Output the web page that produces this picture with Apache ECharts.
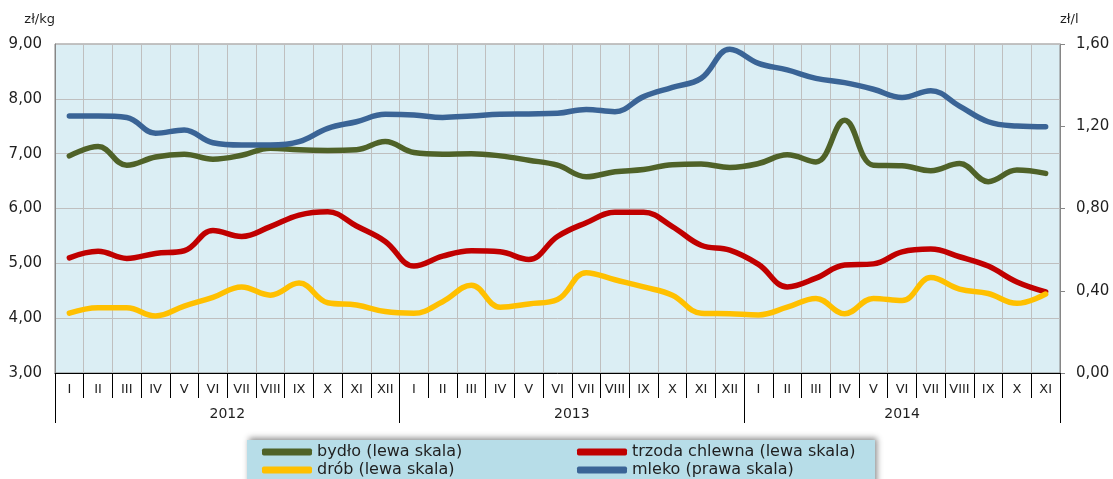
<!DOCTYPE html>
<html>
<head>
<meta charset="utf-8">
<script src="https://cdn.jsdelivr.net/npm/echarts@6/dist/echarts.min.js"></script>
<style>
html,body{margin:0;padding:0;background:#fff;}
#chart{width:1113px;height:479px;}
</style>
</head>
<body>
<div id="chart"></div>
<script>
// ---- data ----
const monthNames = ['I','II','III','IV','V','VI','VII','VIII','IX','X','XI','XII'];
const years = ['2012','2013','2014'];
const monthsPerYear = [12, 12, 11];

const seriesNames = ['bydło (lewa skala)', 'trzoda chlewna (lewa skala)', 'drób (lewa skala)', 'mleko (prawa skala)'];

// zł/kg (left scale)
const bydlo = [6.96,7.13,6.79,6.94,6.99,6.90,6.97,7.10,7.07,7.06,7.07,7.22,
               7.02,6.99,7.00,6.96,6.88,6.79,6.58,6.67,6.71,6.80,6.81,6.75,
               6.82,6.98,6.85,7.61,6.79,6.78,6.69,6.82,6.49,6.70,6.64];
const trzoda = [5.10,5.22,5.09,5.18,5.23,5.60,5.49,5.67,5.88,5.94,5.68,5.40,
                4.95,5.13,5.23,5.21,5.07,5.49,5.74,5.93,5.93,5.67,5.33,5.24,
                4.98,4.57,4.73,4.97,4.99,5.21,5.26,5.12,4.95,4.66,4.48];
const drob = [4.09,4.19,4.19,4.04,4.22,4.38,4.57,4.42,4.64,4.28,4.24,4.12,
              4.09,4.30,4.60,4.20,4.26,4.34,4.83,4.70,4.57,4.42,4.09,4.08,
              4.06,4.20,4.36,4.08,4.36,4.32,4.74,4.53,4.45,4.27,4.44];
// zł/l (right scale)
const mleko = [1.250,1.250,1.243,1.166,1.182,1.120,1.109,1.109,1.125,1.190,1.222,1.258,
               1.255,1.243,1.250,1.258,1.260,1.263,1.282,1.271,1.344,1.389,1.433,1.574,
               1.506,1.474,1.433,1.412,1.380,1.340,1.373,1.298,1.222,1.201,1.197];

const leftTicks = {min: 3, max: 9, interval: 1};
const rightTicks = {min: 0, max: 1.6, interval: 0.4};

// ---- derived axis categories ----
const monthCats = [];
monthsPerYear.forEach(n => { for (let i = 0; i < n; i++) monthCats.push(monthNames[i]); });
const totalMonths = monthCats.length;
// half-month resolution axis for year labels / separators
const yearCats = new Array(totalMonths * 2 + 1).fill('');
const yearTickIdx = [];
let start = 0;
monthsPerYear.forEach((n, k) => {
  yearTickIdx.push(start * 2);
  yearCats[start * 2 + n] = years[k];
  start += n;
});
yearTickIdx.push(totalMonths * 2);
const yearLabelIdx = yearCats.map((v, i) => v ? i : -1).filter(i => i >= 0);

const FONT = 'DejaVu Sans';
const TXT = '#1f1f1f';
const colors = ['#4f6228', '#c00000', '#ffc000', '#3a6496'];
const fmt = v => v.toFixed(2).replace('.', ',');

const chart = echarts.init(document.getElementById('chart'), null, {renderer: 'canvas'});
chart.setOption({
  animation: false,
  backgroundColor: '#ffffff',
  color: colors,
  grid: {
    left: 55, right: 53, top: 44, bottom: 106,
    show: true, backgroundColor: '#dbeef4', borderColor: '#868686', borderWidth: 1
  },
  graphic: [{
    type: 'rect', z: 1,
    shape: {x: 247, y: 440, width: 628, height: 60},
    style: {fill: '#b7dde8', shadowBlur: 6, shadowColor: 'rgba(0,0,0,0.45)', shadowOffsetX: 2, shadowOffsetY: -2}
  }],
  legend: [{
    data: [seriesNames[0], seriesNames[2]],
    orient: 'vertical', left: 262, top: 444, padding: 0, itemGap: 2,
    icon: 'roundRect', itemWidth: 50, itemHeight: 7,
    textStyle: {fontFamily: FONT, fontSize: 16, color: TXT, lineHeight: 16},
    z: 5
  }, {
    data: [seriesNames[1], seriesNames[3]],
    orient: 'vertical', left: 577, top: 444, padding: 0, itemGap: 2,
    icon: 'roundRect', itemWidth: 50, itemHeight: 7,
    textStyle: {fontFamily: FONT, fontSize: 16, color: TXT, lineHeight: 16},
    z: 5
  }],
  xAxis: [{
    type: 'category', data: monthCats, boundaryGap: true, position: 'bottom',
    axisLine: {show: true, lineStyle: {color: '#000', width: 1}},
    axisTick: {show: true, interval: 0, length: 25, lineStyle: {color: '#000'}},
    axisLabel: {interval: 0, margin: 10, fontFamily: FONT, fontSize: 13, color: TXT},
    splitLine: {show: true, interval: 0, lineStyle: {color: '#bfbfbf', width: 1}}
  }, {
    type: 'category', data: yearCats, boundaryGap: false, position: 'bottom',
    axisLine: {show: false},
    axisTick: {show: true, length: 50, interval: (i) => yearTickIdx.includes(i), lineStyle: {color: '#000'}},
    axisLabel: {interval: (i) => yearLabelIdx.includes(i), margin: 34, fontFamily: FONT, fontSize: 14, color: TXT},
    splitLine: {show: false}
  }],
  yAxis: [{
    type: 'value', position: 'left',
    min: leftTicks.min, max: leftTicks.max, interval: leftTicks.interval,
    name: 'zł/kg', nameLocation: 'end', nameGap: 24,
    nameTextStyle: {align: 'right', verticalAlign: 'middle', fontFamily: FONT, fontSize: 13, color: TXT},
    axisLine: {show: true, lineStyle: {color: '#868686'}},
    axisTick: {show: false},
    axisLabel: {formatter: fmt, margin: 13, fontFamily: FONT, fontSize: 15, color: TXT},
    splitLine: {show: true, lineStyle: {color: '#bfbfbf', width: 1}}
  }, {
    type: 'value', position: 'right',
    min: rightTicks.min, max: rightTicks.max, interval: rightTicks.interval,
    name: 'zł/l', nameLocation: 'end', nameGap: 24,
    nameTextStyle: {align: 'left', verticalAlign: 'middle', fontFamily: FONT, fontSize: 13, color: TXT},
    axisLine: {show: true, lineStyle: {color: '#868686'}},
    axisTick: {show: true, length: 5, lineStyle: {color: '#868686'}},
    axisLabel: {formatter: fmt, margin: 16, fontFamily: FONT, fontSize: 15, color: TXT},
    splitLine: {show: false}
  }],
  series: [
    {name: seriesNames[0], type: 'line', data: bydlo, yAxisIndex: 0, xAxisIndex: 0, smooth: 0.4, showSymbol: false,
     lineStyle: {width: 5.5, color: colors[0], cap: 'round'}, itemStyle: {color: colors[0]}},
    {name: seriesNames[1], type: 'line', data: trzoda, yAxisIndex: 0, xAxisIndex: 0, smooth: 0.4, showSymbol: false,
     lineStyle: {width: 5.5, color: colors[1], cap: 'round'}, itemStyle: {color: colors[1]}},
    {name: seriesNames[2], type: 'line', data: drob, yAxisIndex: 0, xAxisIndex: 0, smooth: 0.4, showSymbol: false,
     lineStyle: {width: 5.5, color: colors[2], cap: 'round'}, itemStyle: {color: colors[2]}},
    {name: seriesNames[3], type: 'line', data: mleko, yAxisIndex: 1, xAxisIndex: 0, smooth: 0.4, showSymbol: false,
     lineStyle: {width: 5.5, color: colors[3], cap: 'round'}, itemStyle: {color: colors[3]}}
  ]
});
</script>
</body>
</html>
